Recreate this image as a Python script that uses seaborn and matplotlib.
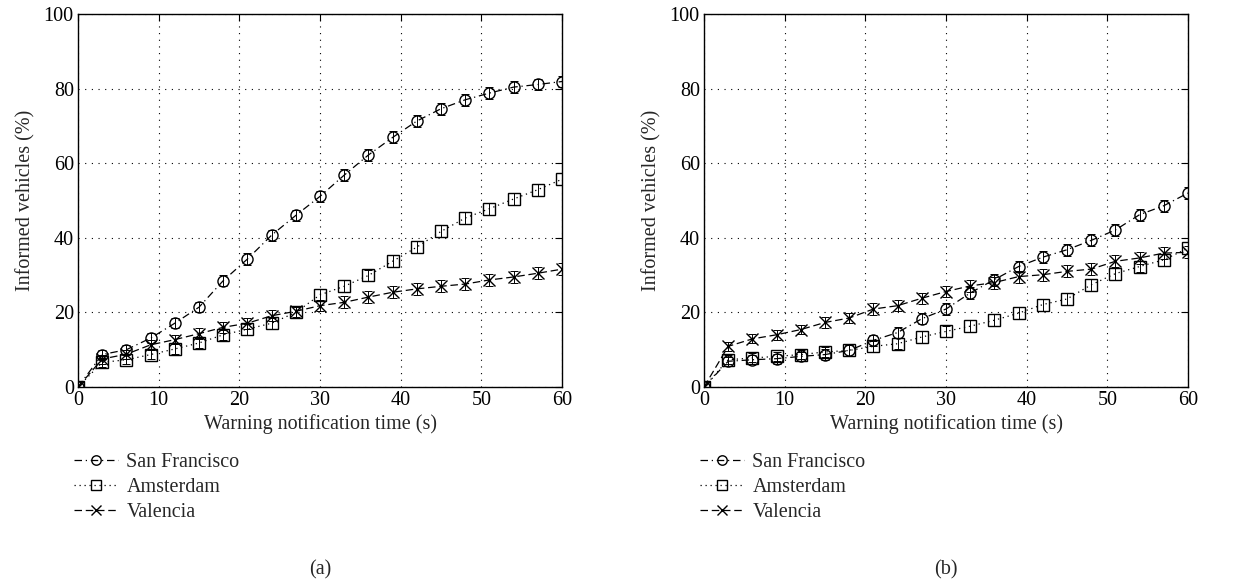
import matplotlib
matplotlib.use("Agg")
import matplotlib.pyplot as plt
import seaborn as sns
import pandas as pd
import numpy as np

# ---- data ----
time_s = [0, 3, 6, 9, 12, 15, 18, 21, 24, 27, 30, 33, 36, 39, 42, 45, 48, 51, 54, 57, 60]

sf_a = [0, 8.7, 10.0, 13.1, 17.1, 21.4, 28.5, 34.3, 40.7, 46.0, 51.1, 56.8, 62.2, 66.9, 71.3, 74.6, 77.0, 78.8, 80.4, 81.1, 81.9]
am_a = [0, 6.6, 7.3, 8.7, 10.2, 11.8, 14.0, 15.5, 17.1, 20.0, 24.7, 27.0, 29.9, 33.7, 37.5, 41.7, 45.3, 47.8, 50.4, 52.9, 55.7]
va_a = [0, 7.5, 8.8, 11.3, 12.7, 14.3, 16.0, 17.1, 19.1, 20.3, 21.8, 22.7, 24.1, 25.4, 26.3, 27.0, 27.6, 28.7, 29.5, 30.5, 31.6]

sf_b = [0, 6.9, 7.3, 7.6, 8.2, 8.7, 9.8, 12.5, 14.6, 18.3, 20.9, 25.2, 28.8, 32.3, 34.8, 36.8, 39.3, 42.1, 46.2, 48.6, 52.0]
am_b = [0, 7.3, 7.8, 8.2, 8.7, 9.4, 9.8, 10.9, 11.6, 13.4, 14.9, 16.3, 17.9, 19.8, 22.1, 23.6, 27.4, 30.4, 32.3, 34.1, 37.2]
va_b = [0, 10.9, 12.9, 14.0, 15.4, 17.3, 18.5, 20.9, 21.8, 23.8, 25.6, 27.1, 28.0, 29.6, 30.1, 31.0, 31.6, 33.7, 34.6, 35.9, 36.1]

err = [0, 1.2, 1.2, 1.3, 1.3, 1.4, 1.4, 1.5, 1.5, 1.5, 1.5, 1.6, 1.6, 1.6, 1.6, 1.6, 1.6, 1.6, 1.6, 1.6, 1.6]

cities = ["San Francisco", "Amsterdam", "Valencia"]
panel_labels = ["(a)", "(b)"]
x_label = "Warning notification time (s)"
y_label = "Informed vehicles (%)"

# ---- styling ----
sns.set_theme(style="white")
plt.rcParams["font.family"] = ["Liberation Serif", "DejaVu Serif"]
FS = 14.5
plt.rcParams["font.size"] = FS

styles = {
    "San Francisco": dict(marker="o", ls=(0, (6, 3, 1, 3))),
    "Amsterdam": dict(marker="s", ls=(0, (1, 3))),
    "Valencia": dict(marker="x", ls=(0, (6, 3))),
}

fig = plt.figure(figsize=(12.45, 5.88), dpi=100)
axes = [
    fig.add_axes([78 / 1245, 1 - 387 / 588, 484 / 1245, 373 / 588]),
    fig.add_axes([704 / 1245, 1 - 387 / 588, 484 / 1245, 373 / 588]),
]

panels = [
    {"San Francisco": sf_a, "Amsterdam": am_a, "Valencia": va_a},
    {"San Francisco": sf_b, "Amsterdam": am_b, "Valencia": va_b},
]

for ax, data, plabel in zip(axes, panels, panel_labels):
    handles = []
    for city in cities:
        df = pd.DataFrame({"t": time_s, "v": data[city]})
        st = styles[city]
        ax.errorbar(time_s, data[city], yerr=err, fmt="none", ecolor="black",
                    elinewidth=0.7, capsize=3, capthick=0.7, ls=":", zorder=2)
        sns.lineplot(data=df, x="t", y="v", ax=ax, color="black", linewidth=0.9,
                     marker=st["marker"], markersize=8, markerfacecolor="none",
                     markeredgecolor="black", markeredgewidth=1.0, zorder=3)
        line = ax.get_lines()[-1]
        line.set_linestyle(st["ls"])
        line.set_label(city)
        handles.append(line)
    ax.set_xlim(0, 60)
    ax.set_ylim(0, 100)
    ax.set_xticks(range(0, 61, 10))
    ax.set_yticks(range(0, 101, 20))
    ax.grid(True, color="black", linestyle=(0, (1, 5)), linewidth=0.8)
    ax.tick_params(direction="in", top=True, right=True, length=5, width=0.8,
                   labelsize=FS, colors="black", pad=3)
    for sp in ax.spines.values():
        sp.set_color("black")
        sp.set_linewidth(1.0)
    ax.set_xlabel(x_label, fontsize=FS, labelpad=3)
    ax.set_ylabel(y_label, fontsize=FS, labelpad=6)
    leg = ax.legend(handles=handles, labels=cities, loc="upper left",
                    bbox_to_anchor=(-0.025, -0.155), frameon=False, fontsize=FS,
                    handlelength=2.2, handletextpad=0.4, labelspacing=0.3,
                    borderaxespad=0, markerscale=0.85)
    ax.text(0.5, -0.49, plabel, transform=ax.transAxes, ha="center", va="center",
            fontsize=FS)

fig.savefig("out.png", dpi=100)
